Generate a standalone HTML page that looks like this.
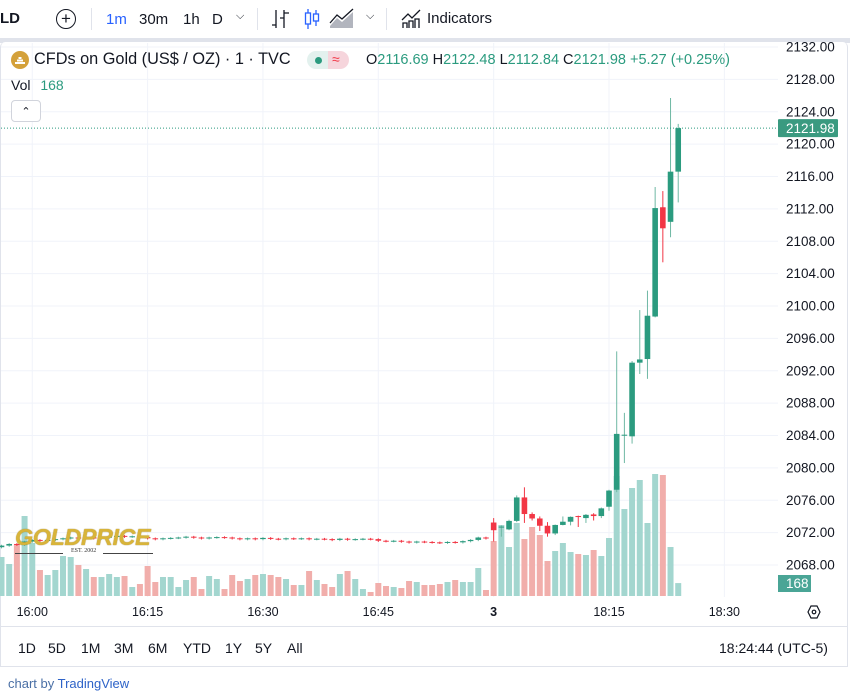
<!DOCTYPE html>
<html><head><meta charset="utf-8">
<style>
html,body{margin:0;padding:0;width:850px;height:693px;overflow:hidden;background:#fff;font-family:"Liberation Sans",sans-serif;}
.t{position:absolute;white-space:nowrap;}
</style></head>
<body>
<div style="position:absolute;left:0;top:0;width:850px;height:38px;background:#fff;">
  <div class="t" style="left:0;top:10px;font-size:15px;font-weight:bold;color:#131722;">LD</div>
  <div style="position:absolute;left:56px;top:9px;width:18px;height:18px;border:1.3px solid #131722;border-radius:50%;text-align:center;line-height:18px;font-size:17px;color:#131722;">+</div>
  <div style="position:absolute;left:91px;top:8px;width:1px;height:22px;background:#e0e3eb;"></div>
  <div class="t" style="left:106px;top:11px;font-size:15px;color:#2962ff;">1m</div>
  <div class="t" style="left:139px;top:11px;font-size:15px;color:#131722;">30m</div>
  <div class="t" style="left:183px;top:11px;font-size:15px;color:#131722;">1h</div>
  <div class="t" style="left:212px;top:11px;font-size:15px;color:#131722;">D</div>
  <div class="t" style="left:236px;top:10px;font-size:11px;color:#131722;">&#x2335;</div>
  <div style="position:absolute;left:257px;top:8px;width:1px;height:22px;background:#e0e3eb;"></div>
  <svg style="position:absolute;left:270px;top:8px" width="22" height="22"><path d="M6 2v18M2 17h4M14 2v18M14 5h5M10 10h4" stroke="#131722" stroke-width="1.3" fill="none"/></svg>
  <svg style="position:absolute;left:302px;top:7px" width="22" height="24"><path d="M6 2v20M14 3v16" stroke="#2962ff" stroke-width="1.3"/><rect x="3.5" y="6" width="5" height="11" fill="#fff" stroke="#2962ff" stroke-width="1.3"/><rect x="11.5" y="7" width="5" height="7" fill="#fff" stroke="#2962ff" stroke-width="1.3"/></svg>
  <svg style="position:absolute;left:329px;top:8px" width="26" height="22"><path d="M1 18L8 10L13 14L24 4V20H1Z" fill="#b2b5be"/><path d="M1 15L8 7L13 11L24 1" stroke="#131722" stroke-width="1.3" fill="none"/></svg>
  <div class="t" style="left:366px;top:10px;font-size:11px;color:#131722;">&#x2335;</div>
  <div style="position:absolute;left:386px;top:8px;width:1px;height:22px;background:#e0e3eb;"></div>
  <svg style="position:absolute;left:400px;top:8px" width="22" height="22"><path d="M2 12L8 6L12 10L20 2M3 20v-5h4v5M9 20v-7h4v7M15 20v-9h4v9" stroke="#131722" stroke-width="1.3" fill="none"/></svg>
  <div class="t" style="left:427px;top:10px;font-size:15px;color:#131722;">Indicators</div>
</div>
<div style="position:absolute;left:0;top:38px;width:850px;height:5px;background:#e0e3eb;"></div>
<div style="position:absolute;left:0;top:42px;width:846px;height:624px;border:1px solid #e0e3eb;border-top:none;border-radius:5px 5px 0 0;background:#fff;"></div>
<svg id="chart" style="position:absolute;left:0;top:0" width="850" height="693"></svg>

<div>
  <svg style="position:absolute;left:11px;top:51px" width="18" height="18"><circle cx="9" cy="9" r="9" fill="#d4a13a"/><path d="M4 12h10M6 9.5h6M7.5 7h3" stroke="#fff" stroke-width="2"/></svg>
  <div class="t" style="left:34px;top:50px;font-size:16.3px;color:#131722;">CFDs on Gold (US$ / OZ) · 1 · TVC</div>
  <div style="position:absolute;left:307px;top:51px;width:42px;height:18px;border-radius:9px;overflow:hidden;">
    <div style="position:absolute;left:0;top:0;width:21px;height:18px;background:#e3f1ee;"></div>
    <div style="position:absolute;left:21px;top:0;width:21px;height:18px;background:#f6d5dc;"></div>
    <div style="position:absolute;left:8px;top:6px;width:7px;height:7px;border-radius:50%;background:#2b9b7f;"></div>
    <div class="t" style="left:25px;top:0px;font-size:14px;color:#f23645;">≈</div>
  </div>
  <div class="t" style="left:366px;top:52px;font-size:14.5px;color:#2b9b7f;"><span style="color:#131722">O</span>2116.69 <span style="color:#131722">H</span>2122.48 <span style="color:#131722">L</span>2112.84 <span style="color:#131722">C</span>2121.98 +5.27 (+0.25%)</div>
  <div class="t" style="left:11px;top:77px;font-size:14px;color:#131722;">Vol <span style="color:#2b9b7f;margin-left:6px">168</span></div>
  <div style="position:absolute;left:11px;top:100px;width:28px;height:20px;border:1px solid #d1d4dc;border-radius:4px;background:#fff;text-align:center;font-size:11px;line-height:22px;color:#131722;">&#x2303;</div>
</div>

<div style="position:absolute;left:15px;top:524px;width:140px;">
  <div class="t" style="left:0;top:0;font-size:23.5px;font-weight:bold;font-style:italic;color:#d8b43a;letter-spacing:-0.5px;text-shadow:0 0 1px #8a6d10;">GOLDPRICE</div>
  <div style="position:absolute;left:0;top:29px;width:48px;height:1px;background:#444;"></div>
  <div class="t" style="left:56px;top:24px;font-size:6px;font-family:'Liberation Serif',serif;color:#333;">EST. 2002</div>
  <div style="position:absolute;left:88px;top:29px;width:50px;height:1px;background:#444;"></div>
</div>

<div>
  <div class="t" style="left:18px;top:640px;font-size:14px;color:#131722;">1D</div>
  <div class="t" style="left:48px;top:640px;font-size:14px;color:#131722;">5D</div>
  <div class="t" style="left:81px;top:640px;font-size:14px;color:#131722;">1M</div>
  <div class="t" style="left:114px;top:640px;font-size:14px;color:#131722;">3M</div>
  <div class="t" style="left:148px;top:640px;font-size:14px;color:#131722;">6M</div>
  <div class="t" style="left:183px;top:640px;font-size:14px;color:#131722;">YTD</div>
  <div class="t" style="left:225px;top:640px;font-size:14px;color:#131722;">1Y</div>
  <div class="t" style="left:255px;top:640px;font-size:14px;color:#131722;">5Y</div>
  <div class="t" style="left:287px;top:640px;font-size:14px;color:#131722;">All</div>
  <div class="t" style="left:719px;top:640px;font-size:14px;color:#131722;">18:24:44 (UTC-5)</div>
</div>
<div class="t" style="left:8px;top:676px;font-size:13px;color:#4a6fa5;">chart by <span style="color:#2e63c8">TradingView</span></div>

<script>
// ---- data ----
const priceTicks = [2132,2128,2124,2120,2116,2112,2108,2104,2100,2096,2092,2088,2084,2080,2076,2072,2068];
const timeLabels = ["16:00","16:15","16:30","16:45","3","18:15","18:30"];
const timeLabelSlots = [4,19,34,49,64,79,94];
const closes = [2070.4,2070.6,2070.5,2070.9,2071.1,2071.0,2071.1,2071.2,2071.3,2071.4,2071.3,2071.4,2071.3,2071.4,2071.5,2071.6,2071.5,2071.55,2071.45,2071.3,2071.2,2071.3,2071.35,2071.4,2071.5,2071.4,2071.3,2071.4,2071.45,2071.4,2071.3,2071.2,2071.3,2071.2,2071.35,2071.25,2071.2,2071.3,2071.25,2071.3,2071.2,2071.25,2071.2,2071.1,2071.25,2071.15,2071.2,2071.25,2071.2,2071.0,2070.95,2071.0,2070.9,2070.8,2070.9,2070.85,2070.8,2070.75,2070.85,2070.8,2070.95,2071.1,2071.4,2071.3,
2072.3,2072.75,2073.45,2076.35,2074.3,2073.75,2072.85,2071.9,2072.95,2073.35,2073.95,2073.95,2074.2,2074.05,2075.0,2077.2,2084.2,2084.1,2093.0,2093.4,2098.8,2112.1,2109.6,2116.6,2121.98];
const firstOpen = 2070.2;
const opensPost = [2073.25,2072.7,2072.4,2073.45,2076.35,2074.3,2073.75,2072.85,2071.9,2072.95,2073.35,2074.05,2073.8,2074.25,2074.05,2075.2,2077.3,2084.0,2083.9,2093.0,2093.45,2098.7,2112.2,2110.4,2116.6];
const highsPost = [2073.8,2072.9,2073.6,2076.6,2077.6,2074.5,2074.0,2073.3,2073.0,2074.0,2074.0,2074.1,2074.3,2074.4,2075.1,2077.3,2094.4,2086.8,2093.2,2099.5,2101.9,2114.7,2114.2,2125.7,2122.5];
const lowsPost = [2070.9,2071.5,2072.3,2073.3,2073.2,2073.5,2072.2,2071.5,2071.7,2072.9,2072.9,2072.7,2073.2,2073.5,2073.8,2074.7,2077.0,2080.6,2083.0,2091.6,2091.0,2098.6,2105.4,2108.5,2112.8];
const volumes = [507,416,663,1040,689,338,273,338,520,507,403,351,247,247,286,247,260,117,156,390,182,247,247,117,208,247,91,260,221,91,273,195,221,273,286,273,247,221,143,143,325,208,156,117,286,325,221,91,52,169,130,117,104,195,182,143,143,156,182,208,182,182,364,78,
715,923,637,949,741,897,793,455,585,689,572,546,533,598,520,754,1560,1131,1404,1508,949,1586,1573,637,168];
const lastPrice = 2121.98;
const lastVolume = 168;

// ---- axes ----
const svg = document.getElementById('chart');
const NS = 'http://www.w3.org/2000/svg';
const plotRight = 778;
function yP(p){ return 47 + (2132 - p) * 8.094; }
function xI(i){ return 1.5 + i * 7.69; }
function yV(v){ return 596 - v / 13; }
function mk(tag, attrs){ const e = document.createElementNS(NS, tag); for (const k in attrs) e.setAttribute(k, attrs[k]); svg.appendChild(e); return e; }

const n = closes.length;
const opens = [], highs = [], lows = [];
const pre = n - opensPost.length;
for (let i = 0; i < n; i++) {
  if (i < pre) {
    const o = i === 0 ? firstOpen : closes[i-1];
    opens.push(o);
    highs.push(Math.max(o, closes[i]) + 0.1);
    lows.push(Math.min(o, closes[i]) - 0.15);
  } else {
    opens.push(opensPost[i-pre]); highs.push(highsPost[i-pre]); lows.push(lowsPost[i-pre]);
  }
}

// grid
priceTicks.forEach(function(p){
  const g = mk('line',{x1:1,x2:plotRight,y1:yP(p),y2:yP(p),stroke:'#f0f3fa','stroke-width':1});
  
  
  const t = mk('text',{x:786,y:yP(p)+4.5,'font-size':13.5,fill:'#131722','font-family':'Liberation Sans, sans-serif'});
  t.textContent = p.toFixed(2);
  
  
});
timeLabels.forEach(function(lb, k){
  const x = xI(timeLabelSlots[k]);
  const g = mk('line',{x1:x,x2:x,y1:43,y2:597,stroke:'#f0f3fa','stroke-width':1});
  
  
  const t = mk('text',{x:x,y:616,'font-size':12.5,fill:'#131722','text-anchor':'middle','font-weight':lb==='3'?'bold':'normal','font-family':'Liberation Sans, sans-serif'});
  t.textContent = lb;
  
  
});

// volume bars
for (let i = 0; i < n; i++) {
  const up = closes[i] >= opens[i];
  const r = mk('rect',{x:xI(i)-3,y:yV(volumes[i]),width:6,height:596-yV(volumes[i]),fill:up?'#a3d6cf':'#f1aeab'});
  
  
}
// candles
for (let i = 0; i < n; i++) {
  const up = closes[i] >= opens[i];
  const col = up ? '#2b9b7f' : '#f23645';
  const x = xI(i);
  const w = mk('line',{x1:x,x2:x,y1:yP(highs[i]),y2:yP(lows[i]),stroke:up?'#6fb8a4':col,'stroke-width':1});
  
  
  const top = yP(Math.max(opens[i],closes[i])), bot = yP(Math.min(opens[i],closes[i]));
  const b = mk('rect',{x:x-2.8,y:top,width:5.6,height:Math.max(1,bot-top),fill:col});
  
  
}

// last price line & labels
const ly = yP(lastPrice);
const pl = mk('line',{x1:1,x2:plotRight,y1:ly,y2:ly,stroke:'#2b9b7f','stroke-width':1,'stroke-dasharray':'1 2'});


const pb = mk('rect',{x:778,y:ly-9,width:60,height:18,fill:'#3a9a80',rx:1});


const pt = mk('text',{x:786,y:ly+5,'font-size':13.5,fill:'#fff','font-family':'Liberation Sans, sans-serif'});
pt.textContent = lastPrice.toFixed(2);


const vb = mk('rect',{x:778,y:575,width:33,height:17,fill:'#4aa596'});


const vt = mk('text',{x:786,y:588,'font-size':13.5,fill:'#fff','font-family':'Liberation Sans, sans-serif'});
vt.textContent = String(lastVolume);



// settings gear and separator
const gear = mk('path',{d:'M808 612 L811 606 L817 606 L820 612 L817 618 L811 618 Z',fill:'none',stroke:'#131722','stroke-width':1.2});


const gc = mk('circle',{cx:814,cy:612,r:1.8,fill:'none',stroke:'#131722','stroke-width':1.2});


const sep = mk('line',{x1:1,x2:847,y1:626.5,y2:626.5,stroke:'#e0e3eb','stroke-width':1});


</script>
</body></html>
